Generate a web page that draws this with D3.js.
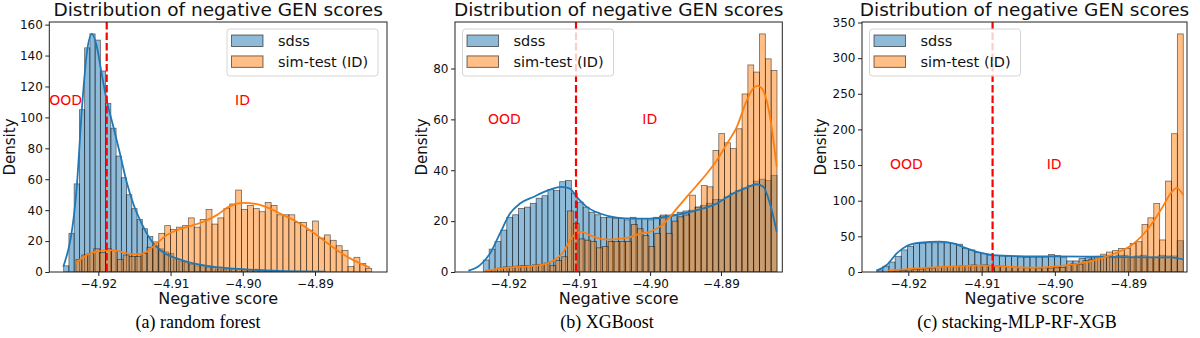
<!DOCTYPE html>
<html>
<head>
<meta charset="utf-8">
<script src="https://cdn.jsdelivr.net/npm/d3@7"></script>
<style>
  body { margin: 0; background: #fff; }
  svg text { font-family: "DejaVu Sans", sans-serif; }
  .cap { font-family: "Liberation Serif", "Times New Roman", serif; }
</style>
</head>
<body>
<svg id="fig" width="1200" height="338"></svg>
<script>
// ---- data (density per bin, 50 bins per series) ----
var seriesNames = ["sdss", "sim-test (ID)"];
var xTicks = [-4.92, -4.91, -4.90, -4.89];
var captions = ["(a) random forest", "(b) XGBoost", "(c) stacking-MLP-RF-XGB"];

// (a) random forest
var rfSdssRange = [-4.9248, -4.8885];
var rfSdss = [4,25,57,105,145,154,150,130,109,93, 75,61,50,41,34,28,23,17,15,13,
  12,8,7,6,5,4,4,3,3,2, 2,2,1.5,1.5,1,1,1,1,0.8,0.5, 0.5,0.5,0.3,0.3,0.3,0.2,0.2,0.2,0.1,0.1];
var rfSimRange = [-4.9231, -4.88215];
var rfSim = [8,11,12,15,12.5,15,14,8,11,10, 10,12,16,19.5,25,30,27.5,29,30,35,
  29,34,40.5,31,35,41,44,53,40.5,43, 41,39,45,43,37,37,37,32,32,27, 33,22,24,20.5,17,14,3.5,9.5,5.5,2.2];
var rfSdssKde = [[-4.92485,3.4],[-4.92299,55],[-4.9223,104],[-4.92161,141],[-4.92091,154],[-4.92022,146],
  [-4.91953,128],[-4.91884,111],[-4.91792,94],[-4.917,76.5],[-4.91607,58],[-4.91515,44],[-4.91422,33.5],
  [-4.9133,25],[-4.91238,18.5],[-4.91145,14.2],[-4.91053,11.4],[-4.90914,8.8],[-4.9073,6],[-4.90499,3.9],
  [-4.90126,2.2],[-4.89668,1.1],[-4.89206,0.4],[-4.8885,0.2]];
var rfSimKde = [[-4.92309,5.6],[-4.92161,11],[-4.92022,13.1],[-4.91884,14.2],[-4.91745,13.8],[-4.91607,12],
  [-4.91468,11.4],[-4.9133,13.1],[-4.91191,18.5],[-4.91053,23.9],[-4.90914,27],[-4.9073,29.7],[-4.90546,32.5],
  [-4.9036,36.8],[-4.90176,42.6],[-4.89992,44.7],[-4.89806,43.9],[-4.89622,41],[-4.89438,36.8],[-4.89252,32.5],
  [-4.89068,27],[-4.88884,20.6],[-4.88698,14.2],[-4.88514,8.8],[-4.88375,5.6],[-4.88237,2.8]];
var rfCut = -4.91884;
var rfOod = [-4.92679, 108], rfId = [-4.90107, 108];

// (b) XGBoost
var xgbSdssRange = [-4.92353, -4.8821];
var xgbSdss = [4.7,9,12,16.5,21.5,22.5,25,25.5,27,29, 30,32.5,32,35.5,36,31,27.5,25.5,23.5,22.5,
  21.5,21.5,21,21,20.5,21.5,21,21,20.5,21.5, 22,22.4,22.6,23.5,24,24.3,25.4,26.2,27,28.5,
  28.5,29.5,31,32,33,34,35.7,36.5,36,38];
var xgbSimRange = [-4.92315, -4.8821];
var xgbSim = [0.5,1,1.5,2,2,2.3,2.5,2.5,2.8,3, 3.5,2.5,4.5,6,24,19,13,12.5,12,9.5,
  10,12,12,12,12,18.7,17,14.3,10,15.2, 22.4,15.2,20,21.7,22.4,30.2,25.6,34,33.5,47.8,
  54.4,50.8,48.5,56.3,70,81.4,78.6,93.6,83.8,79.2];
var xgbSdssKde = [[-4.92564,0.5],[-4.92399,2.7],[-4.92258,7.3],[-4.92117,15.2],[-4.91976,23],[-4.91835,26.9],
  [-4.91647,29.5],[-4.91458,31.9],[-4.91247,33.5],[-4.9113,32.8],[-4.91035,29.5],[-4.90894,25.6],[-4.90707,23],
  [-4.90471,21.4],[-4.90237,21],[-4.90001,21],[-4.89766,21.7],[-4.89532,23],[-4.89296,24.6],[-4.89061,26.9],
  [-4.88827,30.9],[-4.88638,33.2],[-4.88496,34.5],[-4.88403,33.5],[-4.88309,26.9],[-4.88214,15.8]];
var xgbSimKde = [[-4.92315,0.5],[-4.91976,1.8],[-4.91647,2.4],[-4.91458,3.3],[-4.91317,5.3],[-4.91224,7.9],
  [-4.9113,12.5],[-4.91035,15.2],[-4.90965,15.8],[-4.90848,14.5],[-4.90707,13.1],[-4.90566,12.7],[-4.90425,13.1],
  [-4.90284,13.7],[-4.90142,15.1],[-4.90001,15.8],[-4.89907,17.1],[-4.89814,18.8],[-4.89719,21.7],[-4.89625,24.9],
  [-4.89484,29.5],[-4.89343,34],[-4.89202,38.6],[-4.89061,43.8],[-4.8892,50.3],[-4.88779,56.9],[-4.88638,67.3],
  [-4.88544,72.3],[-4.88488,73.2],[-4.88426,72.3],[-4.88355,67.3],[-4.88285,56.9],[-4.88214,41.3]];
var xgbCut = -4.91045;
var xgbOod = [-4.92286, 58.3], xgbId = [-4.9011, 58.3];

// (c) stacking-MLP-RF-XGB
var stkSdssRange = [-4.92431, -4.88248];
var stkSdss = [3,8,14,22,31,36,40,40,41,41, 41,41,40,39,33,31,27.5,26,24,23,
  22.5,22,22,21,20.5,21,21,21,24.5,23, 21,15.5,15.5,19,20,21,22,22.5,20,23.5,
  23.5,21,22.5,23.5,21,21,23.5,22.5,22.5,44];
var stkSimRange = [-4.92273, -4.88248];
var stkSim = [1,1.5,2,3,3.5,4,5,5.5,6.5,7, 7.5,8,8.5,9,10,9,10,9,8.5,8,
  7.5,7,6.5,6,6,5.5,6,5.5,6,6.5, 9,12,11,16,18,22,25,28,30,33,
  33,40,42.5,66.5,76,96,45,127.5,194,334];
var stkSdssKde = [[-4.92431,1.9],[-4.92295,9.8],[-4.92158,26],[-4.92022,36.4],[-4.9184,41.1],[-4.91568,42.5],
  [-4.91386,40.1],[-4.91203,33.1],[-4.91022,27.1],[-4.9084,23.8],[-4.90521,22.4],[-4.90067,21.9],[-4.89613,21.5],
  [-4.89293,21.5],[-4.89112,20.8],[-4.887,20.5],[-4.88428,20.5],[-4.88248,17.7]];
var stkSimKde = [[-4.92273,1.9],[-4.91885,5.1],[-4.91431,7.5],[-4.91113,8.9],[-4.9093,8.9],[-4.90658,7.5],
  [-4.90295,6.1],[-4.90022,7.5],[-4.89749,10.7],[-4.89476,16],[-4.8918,26],[-4.88952,37.8],[-4.88726,61],
  [-4.88543,89],[-4.88407,112],[-4.88338,118],[-4.88248,107.8]];
var stkCut = -4.9085;
var stkOod = [-4.9225, 145], stkId = [-4.90112, 145];

// ---- layout ----
var blue = "#1f77b4", orange = "#ff7f0e";
var plotTop = 22, plotBottom = 272;
var panels = [
  {left: 49.3, right: 387, xLim: [-4.92679, -4.88003], yStep: 20, legend: "right", capX: 198,
   sdss: rfSdss, sdssRange: rfSdssRange, sim: rfSim, simRange: rfSimRange,
   sdssKde: rfSdssKde, simKde: rfSimKde, cut: rfCut, ood: rfOod, id: rfId, caption: captions[0]},
  {left: 455, right: 782.3, xLim: [-4.92752, -4.88135], yStep: 20, legend: "left", capX: 607,
   sdss: xgbSdss, sdssRange: xgbSdssRange, sim: xgbSim, simRange: xgbSimRange,
   sdssKde: xgbSdssKde, simKde: xgbSimKde, cut: xgbCut, ood: xgbOod, id: xgbId, caption: captions[1]},
  {left: 862, right: 1187, xLim: [-4.92632, -4.88197], yStep: 50, legend: "left", capX: 1017,
   sdss: stkSdss, sdssRange: stkSdssRange, sim: stkSim, simRange: stkSimRange,
   sdssKde: stkSdssKde, simKde: stkSimKde, cut: stkCut, ood: stkOod, id: stkId, caption: captions[2]}
];

var svg = d3.select("#fig");

function toBins(counts, range) {
  var w = (range[1] - range[0]) / counts.length;
  return counts.map(function(v, i) {
    return {x0: range[0] + i * w, x1: range[0] + (i + 1) * w, v: v};
  });
}

panels.forEach(function(p) {
  var g = svg.append("g");
  var x = d3.scaleLinear().domain(p.xLim).range([p.left, p.right]);
  var yMax = 1.05 * d3.max([d3.max(p.sdss), d3.max(p.sim)]);
  var y = d3.scaleLinear().domain([0, yMax]).range([plotBottom, plotTop]);

  var clip = "clip" + Math.round(p.left);
  g.append("clipPath").attr("id", clip).append("rect")
    .attr("x", p.left).attr("y", plotTop).attr("width", p.right - p.left).attr("height", plotBottom - plotTop);
  var plot = g.append("g").attr("clip-path", "url(#" + clip + ")");

  [[p.sdss, p.sdssRange, blue], [p.sim, p.simRange, orange]].forEach(function(s) {
    plot.append("g").selectAll("rect")
      .data(toBins(s[0], s[1]))
      .enter().append("rect")
      .attr("x", function(d) { return x(d.x0); })
      .attr("width", function(d) { return x(d.x1) - x(d.x0); })
      .attr("y", function(d) { return y(d.v); })
      .attr("height", function(d) { return y(0) - y(d.v); })
      .attr("fill", s[2]).attr("fill-opacity", 0.5)
      .attr("stroke", "#000").attr("stroke-opacity", 0.55).attr("stroke-width", 0.8);
  });

  var line = d3.line()
    .x(function(d) { return x(d[0]); })
    .y(function(d) { return y(d[1]); })
    .curve(d3.curveMonotoneX);
  [[p.sdssKde, blue], [p.simKde, orange]].forEach(function(s) {
    plot.append("path").attr("d", line(s[0]))
      .attr("fill", "none").attr("stroke", s[1]).attr("stroke-width", 1.8);
  });

  plot.append("line")
    .attr("x1", x(p.cut)).attr("x2", x(p.cut)).attr("y1", plotTop).attr("y2", plotBottom)
    .attr("stroke", "red").attr("stroke-width", 2.2).attr("stroke-dasharray", "7.5,3");

  [["OOD", p.ood], ["ID", p.id]].forEach(function(t) {
    g.append("text").attr("x", x(t[1][0])).attr("y", y(t[1][1]))
      .attr("fill", "red").style("font-size", "14px").text(t[0]);
  });

  // axes
  var xa = g.append("g").attr("transform", "translate(0," + plotBottom + ")")
    .call(d3.axisBottom(x).tickValues(xTicks).tickFormat(d3.format(".2f")).tickSize(4).tickPadding(3));
  var ya = g.append("g").attr("transform", "translate(" + p.left + ",0)")
    .call(d3.axisLeft(y).tickValues(d3.range(0, yMax, p.yStep)).tickSize(4).tickPadding(2.5));
  [xa, ya].forEach(function(a) {
    a.select(".domain").remove();
    a.selectAll("line").attr("stroke", "#222");
    a.selectAll("text").attr("fill", "#111").style("font-size", "12px").style("font-family", "DejaVu Sans");
  });
  g.append("rect").attr("x", p.left).attr("y", plotTop)
    .attr("width", p.right - p.left).attr("height", plotBottom - plotTop)
    .attr("fill", "none").attr("stroke", "#222").attr("stroke-width", 1);

  // y label sits just left of the tick labels (bbox is in the axis group's own space)
  var yb = ya.node().getBBox();
  var labX = Math.max(p.left + yb.x - 6.5, 15);
  g.append("text")
    .attr("transform", "translate(" + labX + "," + ((plotTop + plotBottom) / 2) + ") rotate(-90)")
    .attr("text-anchor", "middle").style("font-size", "15px").attr("fill", "#111").text("Density");
  g.append("text").attr("x", (p.left + p.right) / 2).attr("y", 303.5)
    .attr("text-anchor", "middle").style("font-size", "16px").attr("fill", "#111").text("Negative score");
  g.append("text").attr("x", (p.left + p.right) / 2).attr("y", 16)
    .attr("text-anchor", "middle").style("font-size", "18.5px").attr("fill", "#111")
    .text("Distribution of negative GEN scores");
  g.append("text").attr("class", "cap").attr("x", p.capX).attr("y", 327.5)
    .attr("text-anchor", "middle").style("font-size", "18px").attr("fill", "#000").text(p.caption);

  // legend
  var lx = p.legend === "right" ? p.right - 9 - 151 : p.left + 7.5;
  var lg = g.append("g").attr("transform", "translate(" + lx + "," + (plotTop + 7) + ")");
  lg.append("rect").attr("width", 151).attr("height", 47).attr("rx", 3)
    .attr("fill", "#fff").attr("fill-opacity", 0.8).attr("stroke", "#d5d5d5");
  [blue, orange].forEach(function(c, k) {
    lg.append("rect").attr("x", 4.5).attr("y", 6 + k * 20.9).attr("width", 31.5).attr("height", 11.5)
      .attr("fill", c).attr("fill-opacity", 0.5).attr("stroke", "#000").attr("stroke-opacity", 0.55);
    lg.append("text").attr("x", 51).attr("y", 17 + k * 20.9)
      .style("font-size", "14.5px").attr("fill", "#111").text(seriesNames[k]);
  });
});
</script>
</body>
</html>
